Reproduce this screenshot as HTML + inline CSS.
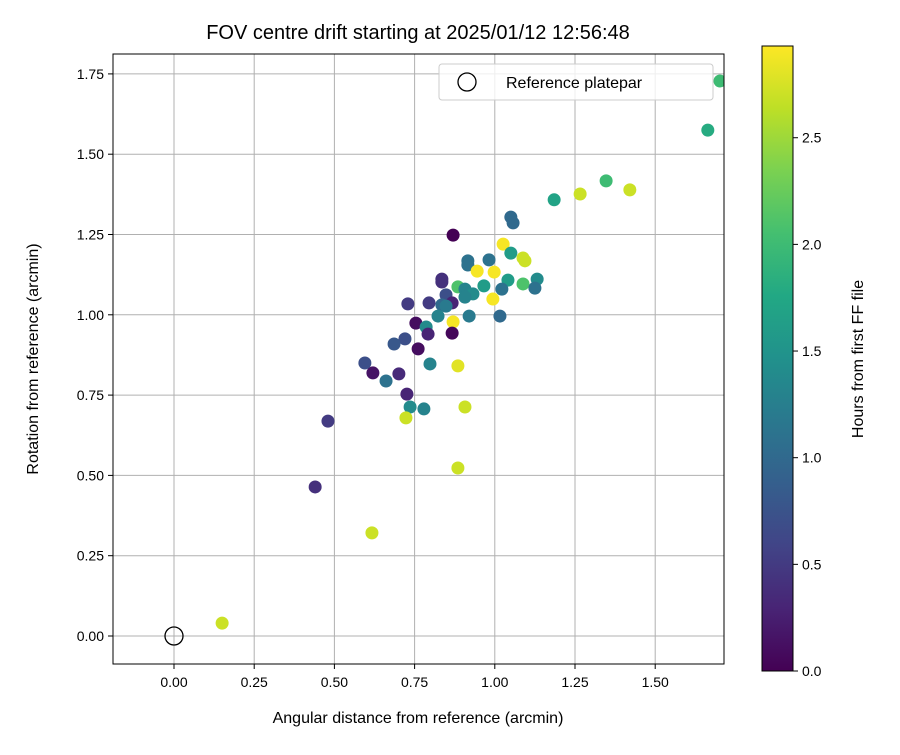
<!DOCTYPE html>
<html><head><meta charset="utf-8"><style>body{margin:0;background:#fff}svg{font-family:"Liberation Sans","DejaVu Sans",sans-serif}</style></head>
<body>
<svg id="chart" width="900" height="750" viewBox="0 0 900 750" xmlns="http://www.w3.org/2000/svg">
<defs>
<linearGradient id="vir" x1="0" y1="1" x2="0" y2="0">
<stop offset="0" stop-color="#440154"/><stop offset="0.1" stop-color="#482475"/><stop offset="0.2" stop-color="#414487"/><stop offset="0.3" stop-color="#355f8d"/><stop offset="0.4" stop-color="#2a788e"/><stop offset="0.5" stop-color="#21918c"/><stop offset="0.6" stop-color="#22a884"/><stop offset="0.7" stop-color="#44bf70"/><stop offset="0.8" stop-color="#7ad151"/><stop offset="0.9" stop-color="#bddf26"/><stop offset="1" stop-color="#fde725"/>
</linearGradient>
<clipPath id="clip"><rect x="113" y="54" width="611" height="610"/></clipPath>
</defs>
<rect width="900" height="750" fill="#fff"/>
<text x="418" y="39" text-anchor="middle" font-size="20">FOV centre drift starting at 2025/01/12 12:56:48</text>
<g id="grid"></g>
<g id="points" clip-path="url(#clip)"></g>
<rect x="113" y="54" width="611" height="610" fill="none" stroke="#000" stroke-width="1"/>
<g id="ticks"></g>
<text x="418" y="723" text-anchor="middle" font-size="16">Angular distance from reference (arcmin)</text>
<text transform="translate(38,359) rotate(-90)" text-anchor="middle" font-size="16">Rotation from reference (arcmin)</text>
<g>
<rect x="439" y="64" width="274" height="36" rx="3" fill="#fff" fill-opacity="0.8" stroke="#ccc"/>
<circle cx="467" cy="82" r="9" fill="none" stroke="#000" stroke-width="1.3"/>
<text x="506" y="88" font-size="16">Reference platepar</text>
</g>
<rect x="762" y="46" width="31" height="625" fill="url(#vir)" stroke="#000"/>
<g id="cbticks"></g>
<text transform="translate(863,359) rotate(-90)" text-anchor="middle" font-size="16">Hours from first FF file</text>
</svg>
<script>
const xs=[0.150,0.617,0.440,0.480,0.907,0.885,1.185,1.266,1.347,1.421,1.664,1.702,0.870,1.050,1.057,1.026,1.050,1.088,1.094,0.916,0.916,0.982,0.945,0.998,0.835,0.835,0.885,0.907,0.932,0.966,1.041,1.088,1.132,1.125,1.022,0.907,0.994,0.848,0.867,0.835,0.848,0.795,0.729,0.823,0.920,1.016,0.870,0.754,0.786,0.792,0.867,0.720,0.686,0.761,0.798,0.885,0.595,0.620,0.661,0.701,0.726,0.736,0.779,0.723];
const ys=[0.040,0.321,0.464,0.669,0.713,0.523,1.358,1.376,1.417,1.389,1.575,1.728,1.248,1.304,1.286,1.220,1.192,1.177,1.168,1.168,1.155,1.171,1.136,1.133,1.111,1.102,1.087,1.080,1.065,1.090,1.108,1.096,1.111,1.083,1.080,1.055,1.049,1.062,1.037,1.031,1.027,1.037,1.034,0.996,0.996,0.996,0.978,0.974,0.962,0.940,0.943,0.925,0.909,0.894,0.847,0.841,0.850,0.819,0.794,0.816,0.753,0.713,0.707,0.679];
const hours=[2.7,2.7,0.4,0.5,2.7,2.7,1.7,2.7,2.0,2.7,1.8,2.0,0.0,1.0,1.0,2.9,1.6,2.7,2.7,1.1,1.1,1.1,2.9,2.9,0.4,0.4,2.1,1.3,1.4,1.6,1.6,2.1,1.4,1.1,1.1,1.3,2.9,0.7,0.3,1.0,1.2,0.5,0.5,1.3,1.2,1.0,2.9,0.1,1.4,0.3,0.05,0.7,0.8,0.1,1.3,2.8,0.7,0.15,1.1,0.35,0.3,1.4,1.3,2.7];
const xTicks=[0,0.25,0.5,0.75,1.0,1.25,1.5];
const yTicks=[0,0.25,0.5,0.75,1.0,1.25,1.5,1.75];
const cTicks=[0,0.5,1.0,1.5,2.0,2.5];
const X=v=>174+v*320.8, Y=v=>636-v*321.2;
const HMAX=2.93, C=v=>671-v/HMAX*625;
const vir=[[68,1,84],[72,36,117],[65,68,135],[53,95,141],[42,120,142],[33,145,140],[34,168,132],[68,191,112],[122,209,81],[189,223,38],[253,231,37]];
function col(t){t=Math.max(0,Math.min(1,t))*10;const i=Math.min(9,Math.floor(t)),f=t-i;const a=vir[i],b=vir[i+1];return `rgb(${a.map((v,k)=>Math.round(v+(b[k]-v)*f)).join(',')})`;}
const NS='http://www.w3.org/2000/svg';
function mk(tag,attrs,parent){const e=document.createElementNS(NS,tag);for(const k in attrs)e.setAttribute(k,attrs[k]);parent.appendChild(e);return e;}
const grid=document.getElementById('grid'),ticks=document.getElementById('ticks'),pts=document.getElementById('points'),cb=document.getElementById('cbticks');
xTicks.forEach(v=>{const x=X(v);
const g=mk('line',{x1:x,x2:x,y1:54,y2:664,stroke:'#b0b0b0','stroke-width':1},grid);


mk('line',{x1:x,x2:x,y1:664,y2:669,stroke:'#000'},ticks);
const t=mk('text',{x:x,y:687,'text-anchor':'middle','font-size':14},ticks);t.textContent=v.toFixed(2);

});
yTicks.forEach(v=>{const y=Y(v);
const g=mk('line',{x1:113,x2:724,y1:y,y2:y,stroke:'#b0b0b0','stroke-width':1},grid);


mk('line',{x1:108,x2:113,y1:y,y2:y,stroke:'#000'},ticks);
const t=mk('text',{x:104,y:y+5,'text-anchor':'end','font-size':14},ticks);t.textContent=v.toFixed(2);

});
cTicks.forEach(v=>{const y=C(v);
mk('line',{x1:793,x2:798,y1:y,y2:y,stroke:'#000'},cb);
const t=mk('text',{x:802,y:y+5,'font-size':14},cb);t.textContent=v.toFixed(1);

});
xs.forEach((v,i)=>{const c=mk('circle',{cx:X(v),cy:Y(ys[i]),r:6.5,fill:col(hours[i]/HMAX)},pts);

});
const ref=mk('circle',{cx:X(0),cy:Y(0),r:9,fill:'none',stroke:'#000','stroke-width':1.3},pts);


</script>
</body></html>
